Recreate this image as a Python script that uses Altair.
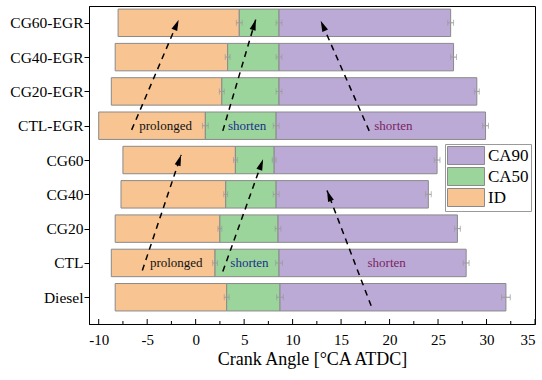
import math
import json
import altair as alt
import pandas as pd

# Combustion phasing per test case (°CA ATDC)
cases = ["Diesel", "CTL", "CG20", "CG40", "CG60", "CTL-EGR", "CG20-EGR", "CG40-EGR", "CG60-EGR"]
soi = [-8.3, -8.7, -8.3, -7.7, -7.5, -10.0, -8.7, -8.3, -8.0]
soc = [3.2, 2.0, 2.5, 3.1, 4.1, 1.0, 2.7, 3.3, 4.5]
ca50 = [8.7, 8.6, 8.5, 8.3, 8.1, 8.3, 8.6, 8.6, 8.6]
ca90 = [32.0, 27.9, 27.0, 24.0, 24.9, 29.9, 29.0, 26.6, 26.3]
err_soc = [0.25, 0.25, 0.2, 0.2, 0.2, 0.3, 0.25, 0.25, 0.3]
err_ca50 = [0.35, 0.35, 0.3, 0.3, 0.2, 0.3, 0.3, 0.3, 0.3]
err_ca90 = [0.45, 0.3, 0.3, 0.3, 0.3, 0.3, 0.25, 0.3, 0.3]

phases = ["CA90", "CA50", "ID"]
phase_colors = ["#BBAAD6", "#9BD59B", "#F8C492"]

# Trend arrows (tail -> head) in data units
arrow_x0 = [-6.6, 2.8, 17.9, -5.5, 2.8, 18.1]
arrow_y0 = [4.88, 4.85, 4.85, 0.78, 0.75, -0.25]
arrow_x1 = [-1.75, 6.2, 12.9, -1.5, 6.95, 13.55]
arrow_y1 = [8.09, 8.10, 8.06, 4.15, 4.02, 3.11]

note_text = ["prolonged", "shorten", "shorten", "prolonged", "shorten", "shorten"]
note_x = [-3.1, 5.3, 20.4, -2.0, 5.55, 19.7]
note_y = [5, 5, 5, 1, 1, 1]
note_color = ["#111111", "#1c2f8c", "#7b1f63", "#111111", "#1c2f8c", "#7b1f63"]

major_ticks = list(range(-10, 36, 5))
minor_ticks = [v + 2.5 for v in range(-10, 35, 5)]

X_DOMAIN = [-11, 35]
Y_DOMAIN = [-0.78, 8.49]
W, H = 446, 318
FONT = "Liberation Serif"
px_x = W / (X_DOMAIN[1] - X_DOMAIN[0])
px_y = H / (Y_DOMAIN[1] - Y_DOMAIN[0])

# ---- tables ----
seg_rows, err_rows = [], []
for i, c in enumerate(cases):
    seg_rows.append(dict(case=c, idx=i, phase="ID", x0=soi[i], x1=soc[i]))
    seg_rows.append(dict(case=c, idx=i, phase="CA50", x0=soc[i], x1=ca50[i]))
    seg_rows.append(dict(case=c, idx=i, phase="CA90", x0=ca50[i], x1=ca90[i]))
    for v, e in ((soc[i], err_soc[i]), (ca50[i], err_ca50[i]), (ca90[i], err_ca90[i])):
        err_rows.append(dict(idx=i, lo=v - e, hi=v + e))
segs = pd.DataFrame(seg_rows)
segs["y0"] = segs["idx"] - 0.4
segs["y1"] = segs["idx"] + 0.4
errs = pd.DataFrame(err_rows)

arrows = pd.DataFrame(dict(x0=arrow_x0, y0=arrow_y0, x1=arrow_x1, y1=arrow_y1))
arrows["ang"] = [
    math.degrees(math.atan2((b - a) * px_x, (d - c) * px_y)) % 360
    for a, b, c, d in zip(arrow_x0, arrow_x1, arrow_y0, arrow_y1)
]
notes = pd.DataFrame(dict(t=note_text, x=note_x, y=note_y, c=note_color))

# inward ticks on the crank-angle axis: 5 px major, 3 px minor
ticks = pd.DataFrame(dict(
    v=major_ticks + minor_ticks,
    len=[5] * len(major_ticks) + [3] * len(minor_ticks),
))
ticks["yb"] = Y_DOMAIN[0]
ticks["yt"] = Y_DOMAIN[0] + ticks["len"] / px_y

xs = alt.Scale(domain=X_DOMAIN, nice=False, zero=False)
ys = alt.Scale(domain=Y_DOMAIN, nice=False, zero=False)

label_expr = json.dumps(cases) + "[datum.value]"
y_axis = alt.Axis(values=list(range(len(cases))), labelExpr=label_expr, title=None,
                  grid=False, tickSize=5, labelFontSize=15.5, labelPadding=1,
                  labelOverlap=False, labelFont=FONT,
                  domainColor="black", tickColor="black", labelColor="black")
x_axis = alt.Axis(values=major_ticks, labelExpr="'' + datum.value", title="Crank Angle [°CA ATDC]",
                  grid=False, ticks=False, tickSize=0, labelPadding=8, labelFontSize=15,
                  labelFont=FONT, titleFont=FONT, labelOverlap=False,
                  titleFontSize=18, titleFontWeight="normal", titlePadding=3,
                  domainColor="black", labelColor="black", titleColor="black")


def qx(field):
    return alt.X(field, type="quantitative", scale=xs, axis=x_axis)


def qy(field):
    return alt.Y(field, type="quantitative", scale=ys, axis=y_axis)


# legend swatch: 37 x 18 px rectangle whose left edge sits at the symbol origin
SWATCH = "M-1,-1L3.11,-1L3.11,1L-1,1Z"

bars = alt.Chart(segs).mark_rect(stroke="#8a8a8a", strokeWidth=1).encode(
    x=qx("x0"),
    x2="x1:Q",
    y=qy("y0"),
    y2="y1:Q",
    color=alt.Color(
        "phase:N",
        scale=alt.Scale(domain=phases, range=phase_colors),
        legend=alt.Legend(
            title=None, orient="none", legendX=356, legendY=138,
            symbolType=SWATCH, symbolSize=324,
            symbolStrokeColor="#8a8a8a", symbolStrokeWidth=1, symbolOpacity=1,
            labelFontSize=17, labelFont=FONT, labelColor="black", labelOffset=22,
            rowPadding=-3, padding=2, strokeColor="#9a9a9a", fillColor="white",
        ),
    ),
)

err_line = alt.Chart(errs).mark_rule(color="#9a9a9a", strokeWidth=1).encode(
    x=qx("lo"), x2="hi:Q", y=qy("idx"))
err_lo = alt.Chart(errs).mark_tick(color="#9a9a9a", orient="vertical", size=6, thickness=1).encode(
    x=qx("lo"), y=qy("idx"))
err_hi = alt.Chart(errs).mark_tick(color="#9a9a9a", orient="vertical", size=6, thickness=1).encode(
    x=qx("hi"), y=qy("idx"))

text = alt.Chart(notes).mark_text(font=FONT, fontSize=13, baseline="middle", align="center").encode(
    x=qx("x"), y=qy("y"), text="t:N", color=alt.Color("c:N", scale=None))

shafts = alt.Chart(arrows).mark_rule(color="black", strokeWidth=1.5, strokeDash=[6, 5]).encode(
    x=qx("x0"), x2="x1:Q", y=qy("y0"), y2="y1:Q")
heads = alt.Chart(arrows).mark_point(
    shape="M0,0L0.28,1L-0.28,1Z", filled=True, color="black", opacity=1, size=484
).encode(x=qx("x1"), y=qy("y1"), angle=alt.Angle("ang:Q", scale=None))

axis_ticks = alt.Chart(ticks).mark_rule(color="black", strokeWidth=1).encode(
    x=qx("v"), y=qy("yb"), y2="yt:Q")

chart = alt.layer(bars, err_line, err_lo, err_hi, text, shafts, heads, axis_ticks).properties(
    width=W, height=H,
    autosize=alt.AutoSizeParams(type="none"),
    padding={"left": 89, "top": 6, "right": 7, "bottom": 56},
).configure(font=FONT).configure_axis(
    labelFont=FONT, titleFont=FONT, labelOverlap=False
).configure_legend(labelFont=FONT).configure_view(stroke="black", strokeWidth=1)

chart.save("out.html", embed_options={"renderer": "svg", "actions": False})
